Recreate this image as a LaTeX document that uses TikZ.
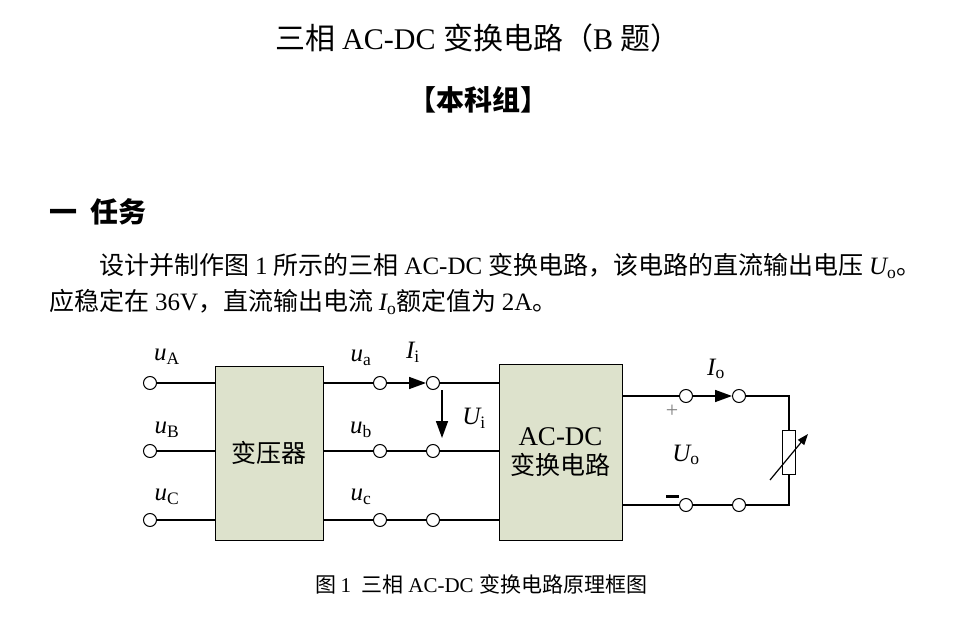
\documentclass[tikz,border=0pt]{standalone}
\usepackage{fontspec}
\setmainfont{Liberation Serif}
\newfontfamily\cjk{Noto Sans CJK SC}
\usetikzlibrary{arrows.meta}
\definecolor{boxfill}{HTML}{DDE2CC}
\begin{document}
\begin{tikzpicture}[x=1pt,y=-1pt,
  term/.style={circle,draw,fill=white,inner sep=0pt,minimum size=13pt,line width=1pt},
  blk/.style={draw,fill=boxfill,line width=1pt,inner sep=0pt},
  wire/.style={line width=1.6pt},
  lab/.style={font=\fontsize{25}{27}\selectfont\itshape,inner sep=0pt},
  arr/.style={-{Triangle[length=17pt,width=12pt]},line width=1.6pt}]
\useasboundingbox (0,0) rectangle (976,617);
% header
\node (title) at (478,38) {\cjk\fontsize{30}{34}\selectfont 三相 \rmfamily AC-DC \cjk 变换电路（\rmfamily B \cjk 题）};
\node (grp) at (478,100) {\cjk\bfseries\fontsize{28}{32}\selectfont 【本科组】};
\node[anchor=west] (sec) at (46,212) {\cjk\bfseries\fontsize{28}{32}\selectfont 一\ \ 任务};
\node[anchor=west] (p1) at (96,266) {\fontsize{25}{28}\selectfont\cjk 设计并制作图 \rmfamily 1 \cjk 所示的三相 \rmfamily AC-DC \cjk 变换电路，该电路的直流输出电压 {\rmfamily\itshape U\textsubscript{\upshape o}}\cjk 。};
\node[anchor=west] (p2) at (46,302) {\fontsize{25}{28}\selectfont\cjk 应稳定在 \rmfamily 36V\cjk ，直流输出电流 {\rmfamily\itshape I\textsubscript{\upshape o}}\cjk 额定值为 \rmfamily 2A\cjk 。};
% blocks
\node[blk,minimum width=108pt,minimum height=174pt] (tr) at (269,453) {\cjk\fontsize{25}{28}\selectfont 变压器};
\node[blk,minimum width=123pt,minimum height=176pt,align=center] (cv) at (560.5,452) {\fontsize{27}{30}\selectfont AC-DC\\[6pt]\cjk\fontsize{25}{28}\selectfont 变换电路};
% input terminals
\node[term] (iA) at (150,383) {};
\node[term] (iB) at (150,451) {};
\node[term] (iC) at (150,520) {};
\draw[wire] (iA) -- (iA -| tr.west);
\draw[wire] (iB) -- (iB -| tr.west);
\draw[wire] (iC) -- (iC -| tr.west);
% middle terminals
\node[term] (a1) at (380,383) {};
\node[term] (a2) at (433,383) {};
\node[term] (b1) at (380,451) {};
\node[term] (b2) at (433,451) {};
\node[term] (c1) at (380,520) {};
\node[term] (c2) at (433,520) {};
\draw[wire] (a1 -| tr.east) -- (a1);
\draw[wire] (b1 -| tr.east) -- (b1);
\draw[wire] (c1 -| tr.east) -- (c1);
\draw[arr] (a1) -- (a2);
\draw[wire] (b1) -- (b2);
\draw[wire] (c1) -- (c2);
\draw[wire] (a2) -- (a2 -| cv.west);
\draw[wire] (b2) -- (b2 -| cv.west);
\draw[wire] (c2) -- (c2 -| cv.west);
\coordinate (ui1) at (442,390);
\coordinate (ui2) at (442,438);
\draw[arr] (ui1) -- (ui2);
% labels
\node[lab] (luA) at (167,357) {u\textsubscript{\upshape A}};
\node[lab] (luB) at (167,430) {u\textsubscript{\upshape B}};
\node[lab] (luC) at (167,497) {u\textsubscript{\upshape C}};
\node[lab] (lua) at (361,358) {u\textsubscript{\upshape a}};
\node[lab] (lub) at (361,430) {u\textsubscript{\upshape b}};
\node[lab] (luc) at (361,497) {u\textsubscript{\upshape c}};
\node[lab] (lIi) at (413,352) {I\textsubscript{\upshape i}};
\node[lab] (lUi) at (474,418) {U\textsubscript{\upshape i}};
% output
\node[term] (o1) at (686,396) {};
\node[term] (o2) at (739,396) {};
\node[term] (o3) at (686,505) {};
\node[term] (o4) at (739,505) {};
\coordinate (tr1) at (789,396);
\coordinate (tr2) at (789,505);
\node[draw,fill=white,line width=1pt,minimum width=13pt,minimum height=44pt,inner sep=0pt] (R) at (789,452) {};
\draw[wire] (o1 -| cv.east) -- (o1);
\draw[arr] (o1) -- (o2);
\draw[wire] (o2) -- (tr1) -- (R.north);
\draw[wire] (R.south) -- (tr2) -- (o4) -- (o3) -- (o3 -| cv.east);
\coordinate (v1) at (770,480);
\coordinate (v2) at (808,434);
\draw[-{Triangle[length=11pt,width=8pt]},line width=1.2pt] (v1) -- (v2);
\node[text=gray,font=\fontsize{22}{22}\selectfont] (plus) at (672,411) {+};
\node[fill=black,minimum width=13pt,minimum height=3pt,inner sep=0pt] (minus) at (672,496) {};
\node[lab] (lUo) at (686,455) {U\textsubscript{\upshape o}};
\node[lab] (lIo) at (716,369) {I\textsubscript{\upshape o}};
% caption
\node (cap) at (481,584) {\fontsize{21}{24}\selectfont\cjk 图 \rmfamily 1\ \ \cjk 三相 \rmfamily AC-DC \cjk 变换电路原理框图};
\end{tikzpicture}
\end{document}
